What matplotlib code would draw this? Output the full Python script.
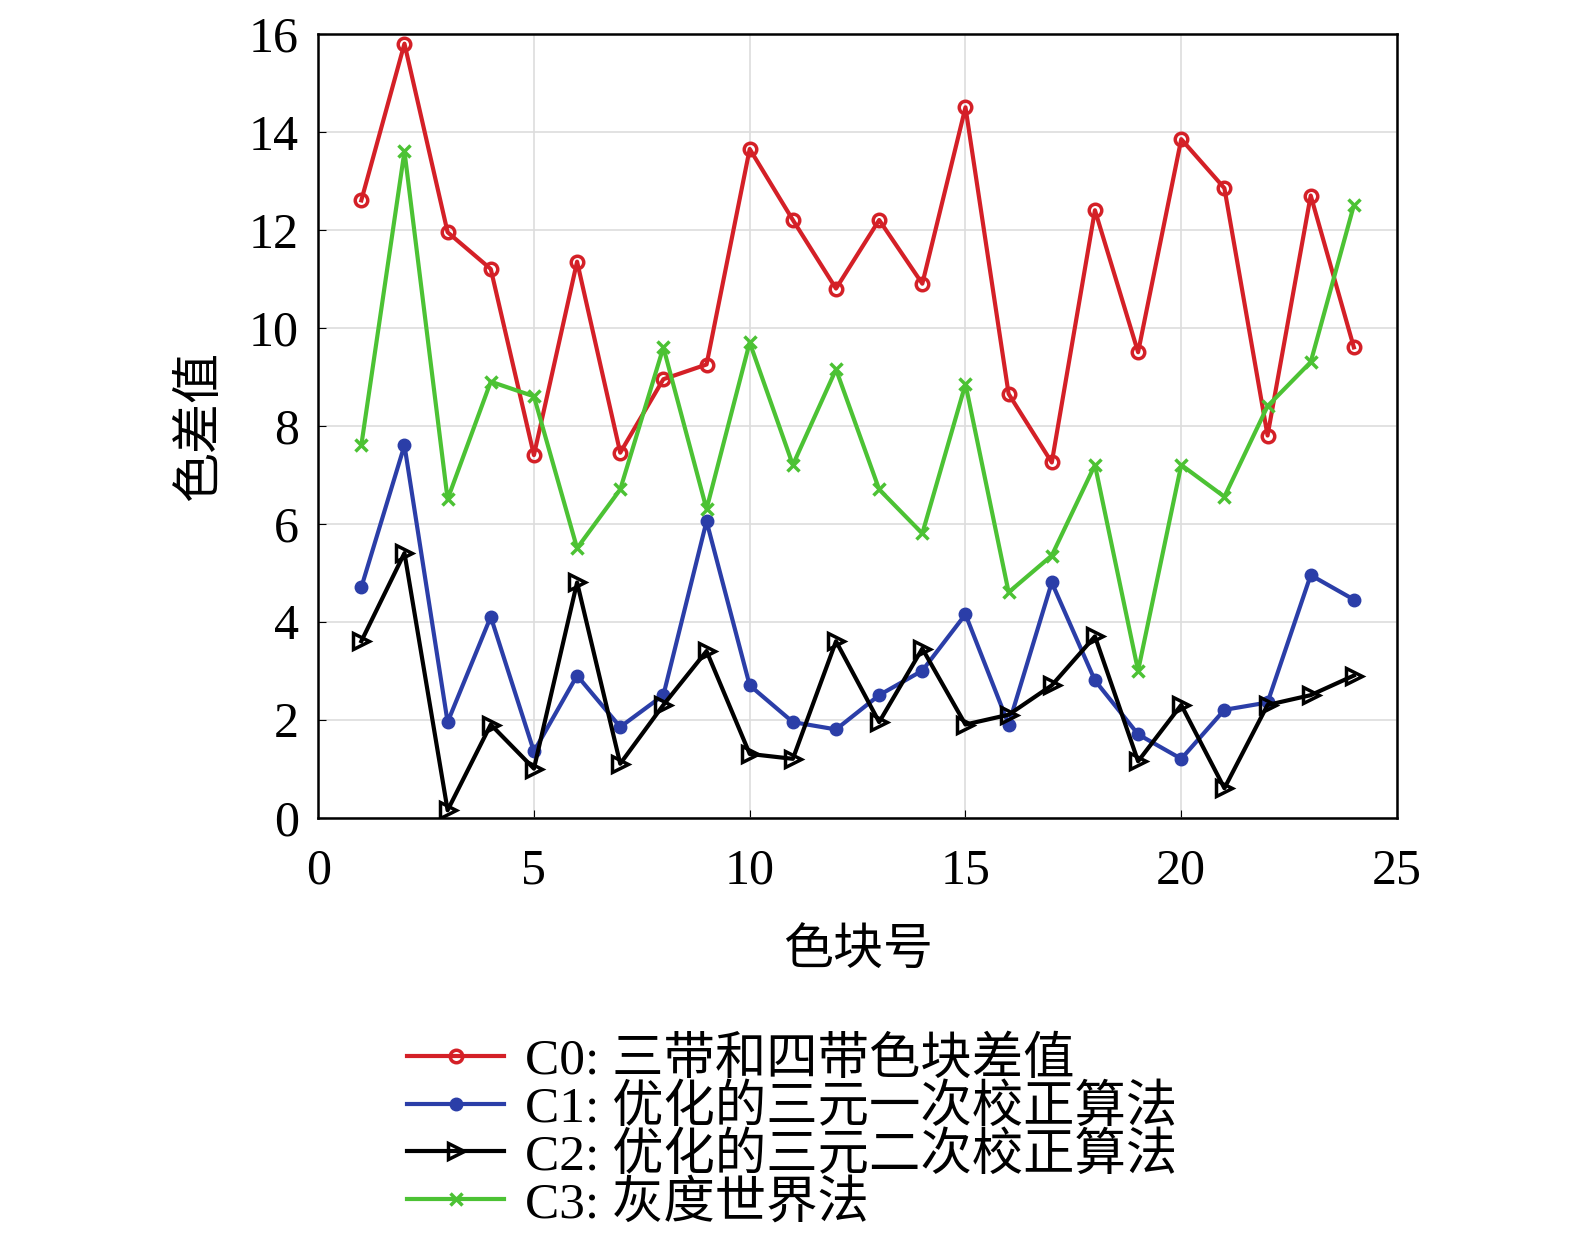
import matplotlib
matplotlib.use("Agg")
import matplotlib.pyplot as plt

plt.rcParams['font.family'] = ['Liberation Serif', 'Noto Sans CJK SC']

patch = list(range(1, 25))
c0 = [12.6, 15.8, 11.95, 11.2, 7.4, 11.35, 7.45, 8.95, 9.25, 13.65, 12.2, 10.8,
      12.2, 10.9, 14.5, 8.65, 7.25, 12.4, 9.5, 13.85, 12.85, 7.8, 12.7, 9.6]
c1 = [4.7, 7.6, 1.95, 4.1, 1.35, 2.9, 1.85, 2.5, 6.05, 2.7, 1.95, 1.8,
      2.5, 3.0, 4.15, 1.9, 4.8, 2.8, 1.7, 1.2, 2.2, 2.35, 4.95, 4.45]
c2 = [3.6, 5.4, 0.15, 1.9, 1.0, 4.8, 1.1, 2.3, 3.4, 1.3, 1.2, 3.6,
      1.95, 3.45, 1.9, 2.1, 2.7, 3.7, 1.15, 2.3, 0.6, 2.3, 2.5, 2.9]
c3 = [7.6, 13.6, 6.5, 8.9, 8.6, 5.5, 6.7, 9.6, 6.3, 9.7, 7.2, 9.15,
      6.7, 5.8, 8.85, 4.6, 5.35, 7.2, 3.0, 7.2, 6.55, 8.4, 9.3, 12.5]
labels = ["C0: 三带和四带色块差值", "C1: 优化的三元一次校正算法",
          "C2: 优化的三元二次校正算法", "C3: 灰度世界法"]

fig = plt.figure(figsize=(15.75, 12.54), dpi=100)
ax = fig.add_axes([0.202, 0.348, 0.685, 0.625])

ax.plot(patch, c0, color='#d42027', lw=3, marker='o', ms=9, mfc='none', mew=2.5, label=labels[0])
ax.plot(patch, c1, color='#2b3ea8', lw=3, marker='o', ms=9, label=labels[1])
ax.plot(patch, c2, color='black', lw=3, marker='>', ms=11, mfc='none', mew=2.5, label=labels[2])
ax.plot(patch, c3, color='#4cc234', lw=3, marker='x', ms=9, mew=2.5, label=labels[3])

ax.set_xlim(0, 25)
ax.set_ylim(0, 16)
ax.set_xticks(range(0, 26, 5))
ax.set_yticks(range(0, 17, 2))
ax.grid(True, color='#dddddd', lw=1.2)
ax.tick_params(labelsize=36, direction='in', length=6)
ax.tick_params(axis='x', pad=22)
ax.tick_params(axis='y', pad=14)
for s in ax.spines.values():
    s.set_linewidth(1.8)
ax.set_xlabel("色块号", fontsize=36, labelpad=25)
ax.set_ylabel("色差值", fontsize=36, labelpad=18)

fig.legend(loc='lower left', bbox_to_anchor=(0.242, 0.0), fontsize=37, frameon=False,
           handlelength=1.9, handletextpad=0.4, labelspacing=0.0, borderaxespad=0.1)

fig.savefig("out.png", dpi=100)
